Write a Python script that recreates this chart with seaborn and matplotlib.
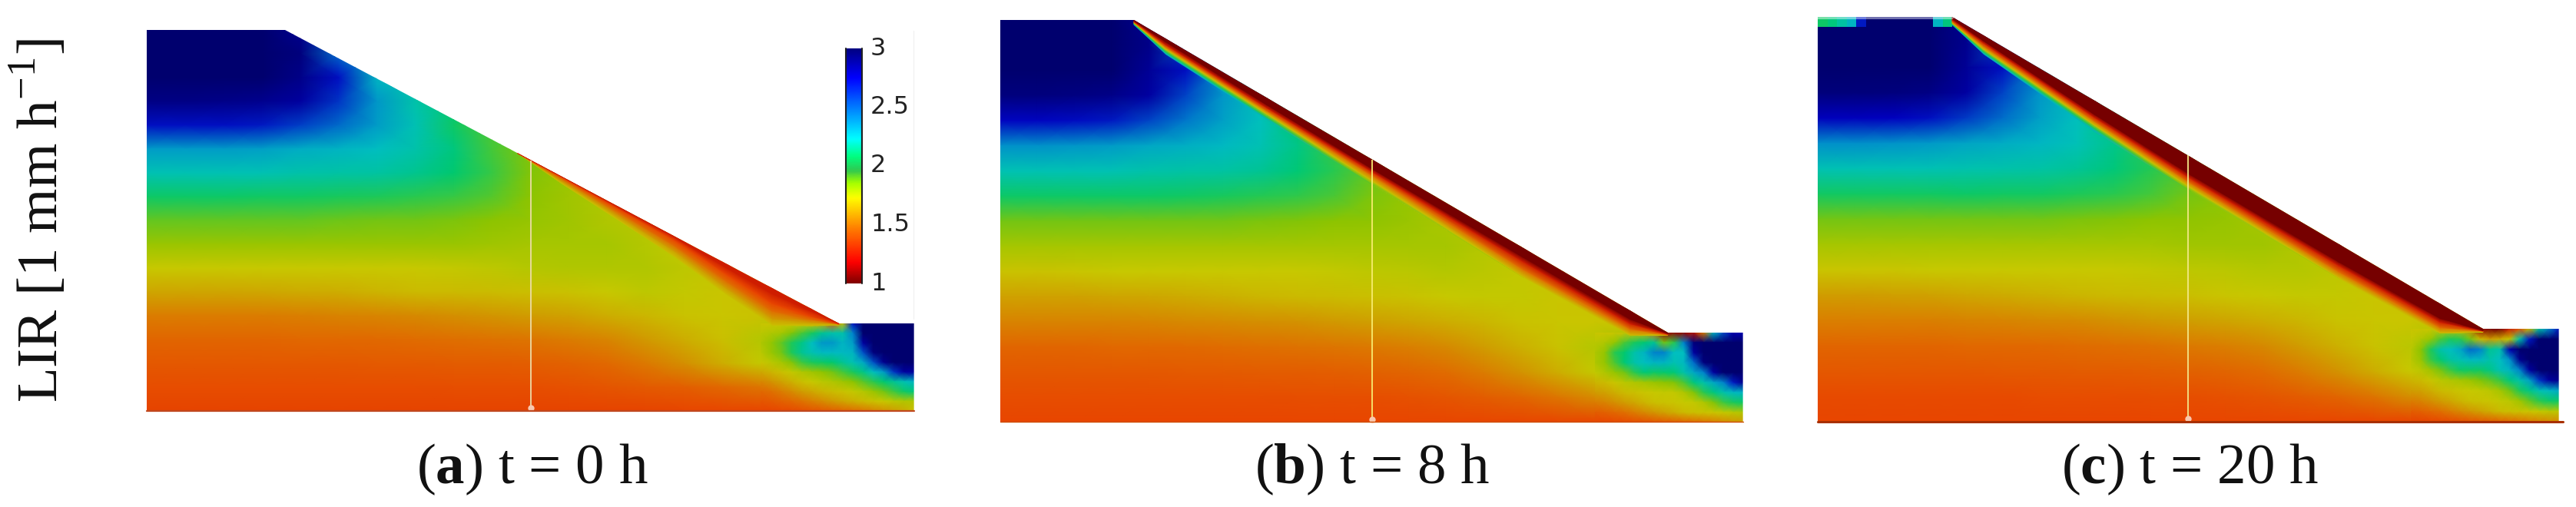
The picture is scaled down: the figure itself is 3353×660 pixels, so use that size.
import numpy as np
import pandas as pd
import matplotlib
matplotlib.use("Agg")
import matplotlib.pyplot as plt
import seaborn as sns
from matplotlib.colors import LinearSegmentedColormap
from matplotlib.patches import Polygon

W, H = 3353, 660

# LIR values, 17 rows (crest to base) x 21 columns (left to right)
field_a = [
    [3.00,3.00,3.00,3.00,2.90,2.60,2.40,2.30,2.30,2.30,2.30,2.30,2.30,2.30,2.30,2.30,2.30,2.30,2.30,2.30,2.30],
    [3.00,3.00,3.00,3.00,2.95,2.55,2.40,2.30,2.30,2.30,2.30,2.30,2.30,2.30,2.30,2.30,2.30,2.30,2.30,2.30,2.30],
    [3.00,3.00,3.00,3.00,2.92,2.72,2.30,2.20,2.20,2.20,2.20,2.20,2.20,2.20,2.20,2.20,2.20,2.20,2.20,2.20,2.20],
    [2.93,2.93,2.92,2.90,2.85,2.65,2.42,2.20,2.10,2.05,2.05,2.05,2.05,2.05,2.05,2.05,2.05,2.05,2.05,2.05,2.05],
    [2.72,2.72,2.72,2.70,2.63,2.55,2.40,2.22,2.05,1.95,1.95,1.95,1.95,1.95,1.95,1.95,1.95,1.95,1.95,1.95,1.95],
    [2.40,2.40,2.40,2.38,2.33,2.30,2.26,2.20,2.10,1.96,1.88,1.88,1.88,1.88,1.88,1.88,1.88,1.88,1.88,1.88,1.88],
    [2.22,2.22,2.22,2.22,2.20,2.19,2.18,2.14,2.07,1.98,1.88,1.84,1.80,1.80,1.80,1.80,1.80,1.80,1.80,1.80,1.80],
    [2.05,2.05,2.05,2.04,2.04,2.03,2.02,2.00,1.98,1.94,1.87,1.83,1.80,1.78,1.78,1.78,1.78,1.78,1.78,1.78,1.78],
    [1.92,1.92,1.92,1.92,1.92,1.91,1.90,1.90,1.89,1.87,1.85,1.83,1.80,1.78,1.76,1.76,1.76,1.76,1.76,1.76,1.76],
    [1.84,1.84,1.84,1.84,1.84,1.84,1.84,1.84,1.84,1.83,1.82,1.82,1.82,1.79,1.75,1.75,1.75,1.75,1.75,1.75,1.75],
    [1.75,1.75,1.75,1.75,1.75,1.75,1.75,1.75,1.76,1.77,1.79,1.80,1.80,1.80,1.77,1.74,1.74,1.74,1.74,1.74,1.74],
    [1.63,1.63,1.63,1.64,1.65,1.66,1.68,1.70,1.70,1.71,1.72,1.73,1.75,1.77,1.76,1.74,1.73,1.72,1.72,1.72,1.72],
    [1.50,1.50,1.50,1.50,1.51,1.52,1.53,1.54,1.56,1.58,1.60,1.62,1.66,1.69,1.73,1.74,1.73,1.72,1.72,1.72,1.72],
    [1.42,1.42,1.42,1.42,1.43,1.43,1.44,1.45,1.46,1.47,1.48,1.50,1.53,1.59,1.66,1.72,1.79,1.85,1.85,1.85,1.85],
    [1.36,1.36,1.36,1.36,1.36,1.36,1.37,1.37,1.38,1.38,1.39,1.41,1.44,1.49,1.56,1.66,1.76,1.85,1.85,1.85,1.85],
    [1.31,1.31,1.31,1.31,1.31,1.31,1.31,1.31,1.32,1.32,1.32,1.33,1.35,1.37,1.39,1.43,1.48,1.60,1.72,1.85,2.10],
    [1.27,1.27,1.27,1.27,1.27,1.27,1.27,1.27,1.27,1.27,1.27,1.27,1.27,1.27,1.28,1.28,1.28,1.33,1.38,1.50,1.70],
]
field_b = [
    [3.00,3.00,3.00,3.00,2.90,2.60,2.40,2.30,2.30,2.30,2.30,2.30,2.30,2.30,2.30,2.30,2.30,2.30,2.30,2.30,2.30],
    [3.00,3.00,3.00,3.00,2.92,2.50,2.30,2.20,2.20,2.20,2.20,2.20,2.20,2.20,2.20,2.20,2.20,2.20,2.20,2.20,2.20],
    [3.00,3.00,3.00,3.00,2.88,2.72,2.35,2.20,2.20,2.20,2.20,2.20,2.20,2.20,2.20,2.20,2.20,2.20,2.20,2.20,2.20],
    [2.95,2.95,2.94,2.92,2.84,2.62,2.42,2.22,2.10,2.05,2.05,2.05,2.05,2.05,2.05,2.05,2.05,2.05,2.05,2.05,2.05],
    [2.74,2.74,2.73,2.70,2.62,2.52,2.38,2.24,2.07,1.95,1.95,1.95,1.95,1.95,1.95,1.95,1.95,1.95,1.95,1.95,1.95],
    [2.44,2.44,2.42,2.40,2.35,2.32,2.28,2.22,2.12,1.98,1.90,1.90,1.90,1.90,1.90,1.90,1.90,1.90,1.90,1.90,1.90],
    [2.22,2.22,2.22,2.22,2.20,2.19,2.18,2.15,2.08,2.00,1.92,1.86,1.82,1.80,1.80,1.80,1.80,1.80,1.80,1.80,1.80],
    [2.05,2.05,2.05,2.05,2.05,2.04,2.03,2.01,1.99,1.95,1.89,1.85,1.81,1.78,1.78,1.78,1.78,1.78,1.78,1.78,1.78],
    [1.90,1.90,1.90,1.90,1.90,1.90,1.90,1.89,1.88,1.87,1.86,1.84,1.81,1.78,1.76,1.76,1.76,1.76,1.76,1.76,1.76],
    [1.82,1.82,1.82,1.82,1.82,1.82,1.82,1.82,1.82,1.82,1.82,1.82,1.82,1.79,1.76,1.75,1.75,1.75,1.75,1.75,1.75],
    [1.73,1.73,1.74,1.75,1.75,1.75,1.75,1.75,1.75,1.76,1.77,1.78,1.79,1.78,1.76,1.74,1.74,1.74,1.74,1.74,1.74],
    [1.62,1.62,1.62,1.63,1.64,1.65,1.67,1.69,1.70,1.71,1.72,1.73,1.75,1.76,1.76,1.74,1.73,1.72,1.72,1.72,1.72],
    [1.52,1.52,1.52,1.52,1.53,1.54,1.55,1.56,1.57,1.59,1.61,1.63,1.66,1.69,1.73,1.74,1.74,1.73,1.72,1.72,1.72],
    [1.42,1.42,1.42,1.43,1.43,1.44,1.45,1.46,1.47,1.48,1.49,1.51,1.54,1.60,1.67,1.73,1.79,1.85,1.85,1.85,1.85],
    [1.36,1.36,1.36,1.36,1.36,1.37,1.37,1.38,1.38,1.39,1.40,1.42,1.45,1.50,1.57,1.66,1.76,1.85,1.85,1.85,1.85],
    [1.31,1.31,1.31,1.31,1.31,1.31,1.31,1.31,1.32,1.32,1.32,1.33,1.35,1.38,1.42,1.48,1.55,1.60,1.72,1.85,2.02],
    [1.28,1.28,1.28,1.28,1.28,1.28,1.28,1.28,1.28,1.28,1.28,1.28,1.28,1.28,1.28,1.28,1.28,1.33,1.38,1.50,1.70],
]
field_c = [
    [3.00,3.00,3.00,3.00,2.90,2.60,2.40,2.30,2.30,2.30,2.30,2.30,2.30,2.30,2.30,2.30,2.30,2.30,2.30,2.30,2.30],
    [3.00,3.00,3.00,3.00,2.90,2.50,2.30,2.20,2.20,2.20,2.20,2.20,2.20,2.20,2.20,2.20,2.20,2.20,2.20,2.20,2.20],
    [3.00,3.00,3.00,3.00,2.88,2.72,2.35,2.20,2.20,2.20,2.20,2.20,2.20,2.20,2.20,2.20,2.20,2.20,2.20,2.20,2.20],
    [2.96,2.96,2.95,2.93,2.84,2.62,2.42,2.22,2.10,2.05,2.05,2.05,2.05,2.05,2.05,2.05,2.05,2.05,2.05,2.05,2.05],
    [2.76,2.76,2.75,2.72,2.64,2.54,2.38,2.24,2.07,1.95,1.95,1.95,1.95,1.95,1.95,1.95,1.95,1.95,1.95,1.95,1.95],
    [2.45,2.45,2.43,2.41,2.36,2.33,2.29,2.23,2.13,1.99,1.90,1.90,1.90,1.90,1.90,1.90,1.90,1.90,1.90,1.90,1.90],
    [2.22,2.22,2.22,2.22,2.21,2.20,2.19,2.16,2.09,2.01,1.93,1.86,1.82,1.80,1.80,1.80,1.80,1.80,1.80,1.80,1.80],
    [2.04,2.04,2.04,2.04,2.05,2.04,2.04,2.02,2.00,1.96,1.90,1.86,1.82,1.78,1.78,1.78,1.78,1.78,1.78,1.78,1.78],
    [1.90,1.90,1.90,1.90,1.90,1.90,1.90,1.89,1.88,1.87,1.86,1.85,1.82,1.79,1.76,1.76,1.76,1.76,1.76,1.76,1.76],
    [1.82,1.82,1.82,1.82,1.82,1.82,1.82,1.82,1.82,1.82,1.83,1.83,1.83,1.80,1.77,1.75,1.75,1.75,1.75,1.75,1.75],
    [1.74,1.74,1.74,1.75,1.75,1.75,1.75,1.75,1.75,1.76,1.77,1.78,1.79,1.79,1.77,1.74,1.74,1.74,1.74,1.74,1.74],
    [1.60,1.60,1.61,1.62,1.64,1.65,1.67,1.69,1.70,1.71,1.72,1.74,1.75,1.76,1.76,1.74,1.73,1.72,1.72,1.72,1.72],
    [1.51,1.51,1.51,1.51,1.52,1.53,1.54,1.55,1.57,1.59,1.61,1.63,1.66,1.69,1.73,1.74,1.74,1.73,1.72,1.72,1.72],
    [1.42,1.42,1.42,1.42,1.43,1.43,1.44,1.45,1.46,1.47,1.49,1.51,1.54,1.60,1.67,1.73,1.78,1.85,1.85,1.85,1.85],
    [1.36,1.36,1.36,1.36,1.36,1.37,1.37,1.38,1.38,1.39,1.40,1.42,1.45,1.50,1.57,1.66,1.75,1.85,1.85,1.85,1.85],
    [1.30,1.30,1.30,1.30,1.30,1.30,1.31,1.31,1.31,1.32,1.32,1.33,1.35,1.38,1.42,1.48,1.56,1.60,1.72,1.85,2.02],
    [1.28,1.28,1.28,1.28,1.28,1.28,1.28,1.28,1.28,1.28,1.28,1.28,1.28,1.28,1.28,1.28,1.28,1.33,1.38,1.50,1.70],
]

# finer readings of the toe block, 10 rows x 16 columns
toe_a = [
    [1.74,1.74,1.74,1.74,1.74,1.72,1.65,1.40,1.70,2.70,3.00,3.00,3.00,3.00,3.00,3.00],
    [1.78,1.80,1.82,1.88,1.95,2.03,2.15,2.20,2.20,2.50,3.00,3.00,3.00,3.00,3.00,3.00],
    [1.80,1.85,1.92,2.02,2.12,2.25,2.42,2.42,2.30,2.40,2.85,3.00,3.00,3.00,3.00,3.00],
    [1.78,1.84,1.90,2.02,2.15,2.22,2.28,2.28,2.28,2.30,2.60,2.95,3.00,3.00,3.00,3.00],
    [1.74,1.78,1.82,1.88,1.97,2.03,2.05,2.07,2.15,2.22,2.35,2.60,2.90,3.00,3.00,3.00],
    [1.64,1.68,1.72,1.76,1.80,1.83,1.86,1.90,1.96,2.03,2.12,2.25,2.40,2.65,2.85,2.85],
    [1.53,1.57,1.62,1.67,1.72,1.75,1.78,1.80,1.83,1.87,1.93,2.00,2.07,2.15,2.22,2.30],
    [1.43,1.46,1.50,1.55,1.60,1.64,1.68,1.71,1.73,1.76,1.79,1.84,1.90,1.97,2.05,2.10],
    [1.35,1.37,1.40,1.43,1.47,1.51,1.55,1.59,1.63,1.67,1.70,1.73,1.75,1.78,1.80,1.80],
    [1.28,1.28,1.29,1.30,1.32,1.34,1.36,1.39,1.42,1.45,1.48,1.52,1.56,1.60,1.65,1.72],
]
toe_b = [
    [1.74,1.74,1.74,1.73,1.72,1.68,1.50,1.05,1.05,1.05,1.10,1.50,2.30,2.60,2.80,2.80],
    [1.78,1.80,1.85,1.95,2.03,2.08,2.15,1.90,2.00,2.50,2.95,3.00,3.00,3.00,3.00,3.00],
    [1.80,1.85,2.00,2.07,2.20,2.30,2.50,2.50,2.25,2.25,2.85,3.00,3.00,3.00,3.00,3.00],
    [1.80,1.85,1.95,2.08,2.20,2.25,2.30,2.30,2.22,2.28,2.55,2.95,3.00,3.00,3.00,3.00],
    [1.76,1.80,1.85,1.90,2.00,2.08,2.05,2.06,2.08,2.20,2.35,2.50,2.85,3.00,3.00,3.00],
    [1.68,1.70,1.74,1.78,1.80,1.82,1.84,1.86,1.88,1.95,2.10,2.20,2.35,2.50,2.70,2.90],
    [1.60,1.62,1.66,1.70,1.72,1.74,1.75,1.76,1.76,1.80,1.88,2.00,2.10,2.20,2.28,2.30],
    [1.50,1.52,1.56,1.60,1.64,1.68,1.72,1.73,1.74,1.75,1.76,1.80,1.88,1.97,2.03,2.05],
    [1.38,1.40,1.43,1.46,1.50,1.54,1.58,1.62,1.66,1.70,1.72,1.73,1.74,1.76,1.78,1.80],
    [1.28,1.28,1.29,1.30,1.31,1.32,1.34,1.36,1.38,1.41,1.44,1.47,1.50,1.54,1.58,1.60],
]
toe_c = [
    [1.74,1.74,1.74,1.74,1.72,1.70,1.55,1.05,1.00,1.00,1.15,1.35,1.70,2.20,2.50,2.70],
    [1.76,1.80,1.85,1.95,2.02,2.00,1.90,1.70,1.60,1.65,1.75,2.20,2.70,3.00,3.00,3.00],
    [1.78,1.87,2.02,2.20,2.25,2.35,2.55,2.50,2.15,2.20,2.80,3.00,3.00,3.00,3.00,3.00],
    [1.78,1.84,1.98,2.08,2.18,2.22,2.28,2.28,2.20,2.25,2.45,2.90,3.00,3.00,3.00,3.00],
    [1.75,1.78,1.83,1.90,1.98,2.05,2.05,2.05,2.12,2.22,2.30,2.50,2.85,3.00,3.00,3.00],
    [1.68,1.70,1.74,1.78,1.80,1.82,1.84,1.88,1.92,1.98,2.10,2.20,2.38,2.65,2.85,2.90],
    [1.60,1.62,1.66,1.70,1.72,1.74,1.75,1.76,1.78,1.82,1.90,2.02,2.12,2.22,2.28,2.35],
    [1.50,1.52,1.56,1.60,1.64,1.68,1.72,1.73,1.74,1.76,1.78,1.83,1.92,2.00,2.05,2.05],
    [1.38,1.40,1.43,1.46,1.50,1.54,1.58,1.62,1.66,1.70,1.72,1.73,1.74,1.76,1.78,1.78],
    [1.27,1.27,1.28,1.29,1.30,1.32,1.34,1.36,1.38,1.41,1.44,1.47,1.50,1.52,1.55,1.55],
]

# wetted band under the slope: for each layer its LIR and depth at each station along the slope
band_stations_a = [0.42, 0.5, 0.7, 0.8, 0.88, 0.95, 1.0]
band_values_a = [
    [1.72, 1.72, 1.72, 1.72, 1.72, 1.72, 1.72],
    [1.60, 1.60, 1.60, 1.60, 1.60, 1.60, 1.60],
    [1.45, 1.45, 1.45, 1.45, 1.45, 1.45, 1.45],
    [1.28, 1.28, 1.28, 1.28, 1.28, 1.28, 1.28],
    [1.15, 1.15, 1.15, 1.15, 1.15, 1.15, 1.15],
]
band_depths_a = [
    [0, 9, 26, 40, 48, 22, 2],
    [0, 6, 19, 32, 40, 18, 1],
    [0, 3, 12, 23, 30, 14, 1],
    [0, 1, 5, 14, 20, 10, 1],
    [0, 0, 1, 5, 7, 3, 0],
]
band_stations_b = [0, 0.06, 0.25, 0.45, 0.73, 0.93, 1.0]
band_values_b = [
    [2.30, 2.30, 2.30, 1.90, 1.74, 1.73, 1.72],
    [2.00, 2.00, 2.00, 1.90, 1.74, 1.73, 1.72],
    [1.72, 1.72, 1.72, 1.72, 1.72, 1.72, 1.72],
    [1.45, 1.45, 1.45, 1.45, 1.45, 1.45, 1.45],
    [1.15, 1.15, 1.15, 1.15, 1.15, 1.15, 1.15],
    [1.00, 1.00, 1.00, 1.00, 1.00, 1.00, 1.00],
]
band_depths_b = [
    [6, 20, 28, 32, 38, 32, 3],
    [5, 17, 25, 32, 38, 32, 3],
    [4, 14, 21, 28, 38, 32, 3],
    [3, 11, 17, 21, 28, 24, 3],
    [2, 8, 13, 16, 18, 17, 2],
    [1, 4, 9, 12, 12, 11, 1],
]
band_stations_c = [0, 0.06, 0.27, 0.45, 0.73, 0.92, 1.0]
band_values_c = [
    [2.30, 2.30, 2.30, 1.90, 1.74, 1.73, 1.72],
    [2.00, 2.00, 2.00, 1.90, 1.74, 1.73, 1.72],
    [1.72, 1.72, 1.72, 1.72, 1.72, 1.72, 1.72],
    [1.45, 1.45, 1.45, 1.45, 1.45, 1.45, 1.45],
    [1.15, 1.15, 1.15, 1.15, 1.15, 1.15, 1.15],
    [1.00, 1.00, 1.00, 1.00, 1.00, 1.00, 1.00],
]
band_depths_c = [
    [10, 24, 40, 44, 44, 38, 4],
    [9, 21, 36, 44, 44, 38, 4],
    [8, 18, 32, 40, 44, 38, 4],
    [6, 14, 27, 34, 36, 31, 3],
    [4, 10, 22, 28, 28, 24, 3],
    [2, 7, 18, 23, 23, 19, 2],
]
crest_c = [2.05, 2.10, 2.18, 2.30, 2.70, 3.00, 3.00, 3.00, 3.00, 3.00, 3.00, 3.00, 2.30, 2.10]

cbar_ticks = [3, 2.5, 2, 1.5, 1]
cbar_labels = ["3", "2.5", "2", "1.5", "1"]
panel_letters = ["a", "b", "c"]
panel_times = ["0", "8", "20"]

field_levels = [1.0, 1.12, 1.28, 1.45, 1.6, 1.75, 1.87, 1.97, 2.07, 2.25, 2.5, 2.75, 3.0]
field_colors = ["#760000", "#c81400", "#e84600", "#e06c00", "#d09c00", "#c8c800", "#8cc400",
                "#3cc840", "#00c870", "#00c0c0", "#0084cc", "#0000c0", "#00006e"]
bar_levels = [1.0, 1.18, 1.47, 1.73, 1.86, 1.96, 2.08, 2.23, 2.49, 2.75, 3.0]
bar_colors = ["#800000", "#ff0000", "#ff8000", "#ffff00", "#a0ff00", "#30c850", "#00ff80",
              "#00ffff", "#0080ff", "#0000ff", "#000080"]

sns.set_theme(style="white")
plt.rcParams["font.family"] = ["Liberation Serif", "DejaVu Serif"]
plt.rcParams["mathtext.fontset"] = "custom"
plt.rcParams["mathtext.rm"] = "Liberation Serif"
plt.rcParams["mathtext.bf"] = "Liberation Serif:bold"


def make_cmap(levels, colors):
    pos = [(v - 1.0) / 2.0 for v in levels]
    return LinearSegmentedColormap.from_list("lir", list(zip(pos, colors)), N=512)


field_cmap = make_cmap(field_levels, field_colors)
bar_cmap = make_cmap(bar_levels, bar_colors)

fig = plt.figure(figsize=(W / 100, H / 100), dpi=100)


def px_axes(left, top, right, bottom, zorder=1):
    ax = fig.add_axes([left / W, 1 - bottom / H, (right - left) / W, (bottom - top) / H])
    ax.set_zorder(zorder)
    return ax


def smooth_heatmap(ax, values, cmap):
    # gouraud puts the readings on the grid corners, so the limits lose one cell
    table = pd.DataFrame(values)
    sns.heatmap(table, ax=ax, cmap=cmap, vmin=1, vmax=3, cbar=False, xticklabels=False,
                yticklabels=False, shading="gouraud")
    ax.set_xlim(0, table.shape[1] - 1)
    ax.set_ylim(table.shape[0] - 1, 0)
    ax.set_axis_off()
    return ax.collections[0]


def draw_panel(left, top, right, bottom, crest_x, toe_x, toe_y, line_x, field, toe, stations,
               band_values, band_depths, line_color):
    nx, ny = 20, 16
    gx = lambda x: (np.asarray(x, dtype=float) - left) / (right - left) * nx
    gy = lambda y: (np.asarray(y, dtype=float) - top) / (bottom - top) * ny
    outline = [(0, 0), (gx(crest_x), 0), (gx(toe_x), gy(toe_y)), (nx, gy(toe_y)), (nx, ny), (0, ny)]

    ax = px_axes(left, top, right, bottom, 1)
    mesh = smooth_heatmap(ax, field, field_cmap)
    mesh.set_clip_path(Polygon(outline, transform=ax.transData))

    # toe block gets its own finer grid, from col 16 to the right edge
    toe_left = left + (right - left) * 16 / nx
    ax_toe = px_axes(toe_left, toe_y, right, bottom, 2)
    smooth_heatmap(ax_toe, toe, field_cmap)

    over = px_axes(left, top, right, bottom, 3)
    over.set_xlim(0, nx)
    over.set_ylim(ny, 0)
    over.set_axis_off()

    # band as a sheared mesh: one row per layer plus the slope surface itself
    st = np.array(stations)
    sx = gx(crest_x + st * (toe_x - crest_x))
    sy = gy(top + st * (toe_y - top))
    depths = np.vstack([band_depths, np.zeros(len(st))]) / (bottom - top) * ny
    vals = np.vstack([band_values, band_values[-1]])
    band = over.pcolormesh(np.tile(sx, (len(vals), 1)), sy + depths, vals,
                           cmap=field_cmap, vmin=1, vmax=3, shading="gouraud")
    band.set_clip_path(Polygon(outline, transform=over.transData))
    over.set_xlim(0, nx)
    over.set_ylim(ny, 0)

    # observation well
    xm = gx(line_x)
    ym = gy(top + (line_x - crest_x) / (toe_x - crest_x) * (toe_y - top))
    over.plot([xm, xm], [ym, ny], color=line_color, lw=1.3, solid_capstyle="butt")
    over.plot([xm], [ny - 0.12], "o", color="#f8c8b0", ms=6, mew=0, clip_on=False)
    # right edge fades out in the source
    over.plot([nx, nx], [gy(toe_y), ny], color="white", lw=2, alpha=0.4, clip_on=False)
    return over


panels = [
    (191, 39, 1190, 535, 371, 1092, 421, 691, field_a, toe_a, band_stations_a, band_values_a, band_depths_a, "#ecdca8"),
    (1302, 26, 2269, 550, 1476, 2171, 433, 1786, field_b, toe_b, band_stations_b, band_values_b, band_depths_b, "#f8ec70"),
    (2366, 22, 3331, 549, 2541, 3232, 428, 2848, field_c, toe_c, band_stations_c, band_values_c, band_depths_c, "#f4e888"),
]
overlays = [draw_panel(*p) for p in panels]

# base lines
overlays[0].plot([0, 20], [16, 16], color="#c04820", lw=1.6, clip_on=False)
overlays[1].plot([0, 20], [15.97, 15.97], color="#cc4c00", lw=1, clip_on=False)
overlays[2].plot([0, 20.1], [16, 16], color="#a83000", lw=2.2, clip_on=False)

# crest strip of panel c
ax_crest = px_axes(2366, 22, 2541, 35, 2)
sns.heatmap(pd.DataFrame([crest_c]), ax=ax_crest, cmap=field_cmap, vmin=1, vmax=3, cbar=False,
            xticklabels=False, yticklabels=False)
ax_crest.set_axis_off()
overlays[2].plot([0, 3.63], [0.04, 0.04], color="white", lw=3, alpha=0.45, clip_on=False)

# colour bar of panel a
ax_bar = px_axes(1100, 63, 1122, 369, 5)
smooth_heatmap(ax_bar, np.column_stack([np.linspace(3, 1, 81)] * 2), bar_cmap)
fig.add_artist(plt.Line2D([1100.5 / W] * 2, [1 - 63 / H, 1 - 369 / H], color="#202020", lw=1.5, zorder=6))
fig.add_artist(plt.Line2D([1121.5 / W] * 2, [1 - 63 / H, 1 - 369 / H], color="#202020", lw=1.5, zorder=6))
for t, lab in zip(cbar_ticks, cbar_labels):
    y = 63 + (3 - t) / 2 * 306
    fig.text(1133 / W, 1 - y / H, lab, fontsize=23, family="DejaVu Sans", color="#222222", va="center", ha="left", zorder=6)
fig.add_artist(plt.Line2D([1188.5 / W] * 2, [1 - 40 / H, 1 - 415 / H], color="#f2f2f2", lw=1))

for cx, letter, time in zip([693, 1786, 2850], panel_letters, panel_times):
    fig.text(cx / W, 1 - 629 / H, f"($\\mathbf{{{letter}}}$) t = {time} h", fontsize=54,
             ha="center", va="baseline", color="#111111")

fig.text(52 / W, 1 - 287 / H, "LIR [1 mm h$^{-1}$]", fontsize=54, rotation=90,
         ha="center", va="center", color="#111111")

fig.savefig("out.png", dpi=100, facecolor="white")
